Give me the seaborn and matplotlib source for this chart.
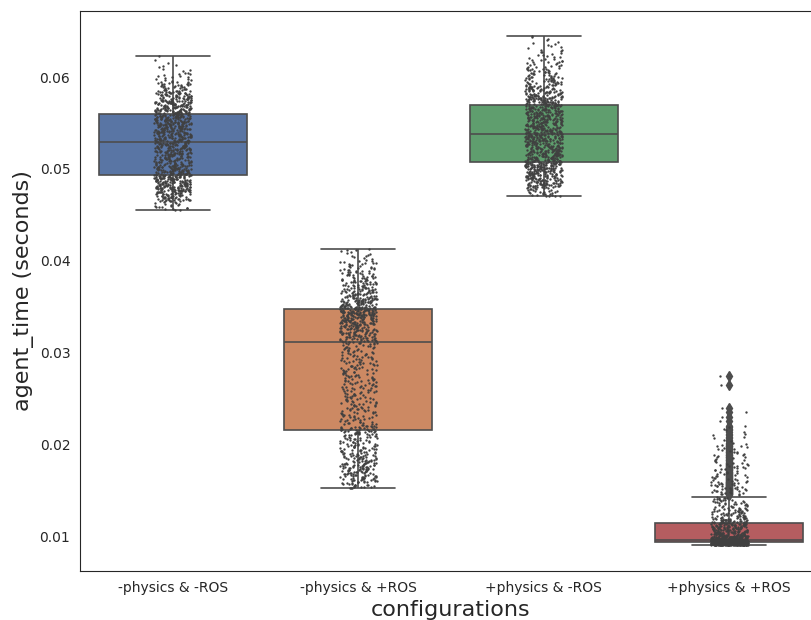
import numpy as np
import pandas as pd
import matplotlib
matplotlib.use("Agg")
import matplotlib.pyplot as plt
import seaborn as sns

# --- Data (per-configuration histogram of agent_time) ---
configurations = ['-physics & -ROS', '-physics & +ROS', '+physics & -ROS', '+physics & +ROS']

# bin edges (seconds) and number of samples per bin
edges_nophys_noros = [0.0455, 0.0465, 0.0475, 0.0485, 0.0495, 0.0505, 0.0515, 0.0525, 0.0535,
                      0.0545, 0.0555, 0.0565, 0.0575, 0.0585, 0.0595, 0.0605, 0.0615, 0.0623]
counts_nophys_noros = [20, 60, 90, 90, 75, 60, 70, 75, 80, 90, 90, 80, 60, 35, 15, 7, 3]

edges_nophys_ros = [0.0152, 0.0160, 0.0170, 0.0180, 0.0190, 0.0200, 0.0210, 0.0220, 0.0230, 0.0240,
                    0.0250, 0.0260, 0.0270, 0.0280, 0.0290, 0.0300, 0.0310, 0.0320, 0.0330, 0.0340,
                    0.0350, 0.0360, 0.0370, 0.0380, 0.0390, 0.0400, 0.0413]
counts_nophys_ros = [25, 45, 50, 40, 35, 30, 45, 25, 25, 25, 25, 25, 25, 25, 25, 25, 50, 60, 75, 100,
                     65, 50, 40, 30, 20, 15]

edges_phys_noros = [0.0470, 0.0480, 0.0490, 0.0500, 0.0510, 0.0520, 0.0530, 0.0540, 0.0550, 0.0560,
                    0.0570, 0.0580, 0.0590, 0.0600, 0.0610, 0.0620, 0.0630, 0.0640, 0.0645]
counts_phys_noros = [30, 70, 80, 95, 80, 75, 85, 80, 80, 75, 80, 55, 40, 30, 20, 13, 8, 4]

edges_phys_ros = [0.0090, 0.0094, 0.0096, 0.0100, 0.0105, 0.0110, 0.0115, 0.0120, 0.0130, 0.01425,
                  0.0145, 0.0160, 0.0180, 0.0200, 0.0220, 0.0240]
counts_phys_ros = [250, 250, 100, 60, 50, 50, 35, 45, 40, 0, 40, 35, 25, 12, 5]
extra_phys_ros = [0.0265, 0.0274]


def expand(edges, counts, extra=()):
    vals = []
    for i, n in enumerate(counts):
        last = i == len(counts) - 1
        vals.append(np.linspace(edges[i], edges[i + 1], n, endpoint=last))
    vals.append(np.asarray(extra, dtype=float))
    return np.concatenate(vals)


samples = [
    expand(edges_nophys_noros, counts_nophys_noros),
    expand(edges_nophys_ros, counts_nophys_ros),
    expand(edges_phys_noros, counts_phys_noros),
    expand(edges_phys_ros, counts_phys_ros, extra_phys_ros),
]
df = pd.DataFrame({
    'configurations': np.concatenate([[c] * len(s) for c, s in zip(configurations, samples)]),
    'agent_time': np.concatenate(samples),
})

# --- Plot ---
sns.set_style("white")
fig = plt.figure(figsize=(8.12, 6.2), dpi=100)
ax = fig.add_axes([0.0985, 0.079, 0.9138, 0.9032])

sns.boxplot(data=df, x='configurations', y='agent_time', hue='configurations', order=configurations,
            palette='deep', legend=False, linecolor='.3', linewidth=1.2, ax=ax,
            flierprops=dict(marker='d', markerfacecolor='.3', markeredgecolor='.3', markersize=5))
np.random.seed(3)
sns.stripplot(data=df, x='configurations', y='agent_time', order=configurations,
              color='.25', size=1.7, jitter=True, ax=ax)

ax.set_ylim(0.00619, 0.0672)
ax.set_yticks([0.01, 0.02, 0.03, 0.04, 0.05, 0.06])
ax.set_xlabel('configurations', fontsize=16)
ax.set_ylabel('agent_time (seconds)', fontsize=16)
ax.tick_params(labelsize=10)

plt.savefig('out.png', dpi=100)
plt.close()
